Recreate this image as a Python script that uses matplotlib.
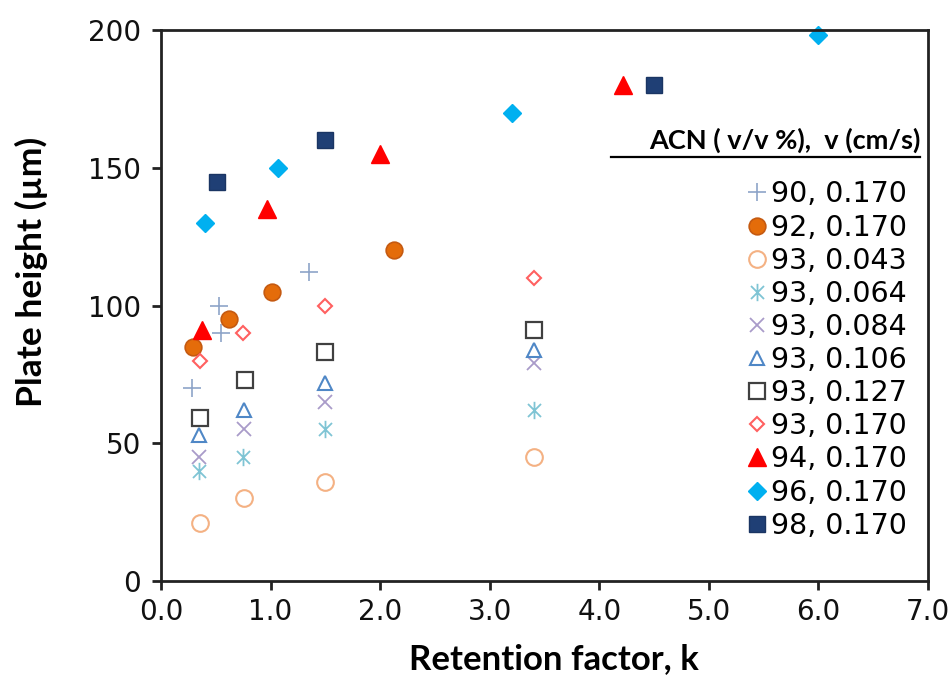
import matplotlib
matplotlib.use("Agg")
import matplotlib.pyplot as plt
from matplotlib.path import Path

# retention factor k / plate height (um)
k_90_170 = [0.28, 0.53, 0.55, 1.35]
h_90_170 = [70, 100, 90, 112]

k_92_170 = [0.29, 0.62, 1.01, 2.13]
h_92_170 = [85, 95, 105, 120]

k_93_043 = [0.36, 0.76, 1.50, 3.40]
h_93_043 = [21, 30, 36, 45]

k_93_064 = [0.35, 0.75, 1.50, 3.40]
h_93_064 = [40, 45, 55, 62]

k_93_084 = [0.35, 0.76, 1.50, 3.40]
h_93_084 = [45, 55, 65, 79]

k_93_106 = [0.35, 0.76, 1.50, 3.40]
h_93_106 = [53, 62, 72, 84]

k_93_127 = [0.36, 0.77, 1.50, 3.40]
h_93_127 = [59, 73, 83, 91]

k_93_170 = [0.36, 0.75, 1.50, 3.40]
h_93_170 = [80, 90, 100, 110]

k_94_170 = [0.37, 0.97, 2.00, 4.22]
h_94_170 = [91, 135, 155, 180]

k_96_170 = [0.40, 1.07, 3.20, 6.00]
h_96_170 = [130, 150, 170, 198]

k_98_170 = [0.51, 1.50, 4.50]
h_98_170 = [145, 160, 180]

labels = ["90, 0.170", "92, 0.170", "93, 0.043", "93, 0.064", "93, 0.084",
          "93, 0.106", "93, 0.127", "93, 0.170", "94, 0.170", "96, 0.170",
          "98, 0.170"]

# asterisk marker like Excel's (vertical bar + X)
asterisk = Path([(0, -1), (0, 1), (-0.75, -0.75), (0.75, 0.75), (-0.75, 0.75), (0.75, -0.75)],
                [Path.MOVETO, Path.LINETO] * 3)

series = [
    (k_90_170, h_90_170, dict(marker="+", color="#8EA4C8", ms=13, mew=1.2, ls="none")),
    (k_92_170, h_92_170, dict(marker="o", mfc="#E46C0A", mec="#C55A11", ms=12, mew=1.2, ls="none")),
    (k_93_043, h_93_043, dict(marker="o", mfc="none", mec="#F4B183", ms=12, mew=1.5, ls="none")),
    (k_93_064, h_93_064, dict(marker=asterisk, color="#7FC4D4", ms=12.5, mew=1.3, ls="none")),
    (k_93_084, h_93_084, dict(marker="x", color="#A99BC9", ms=10.5, mew=1.3, ls="none")),
    (k_93_106, h_93_106, dict(marker="^", mfc="none", mec="#4F87C6", ms=10, mew=1.5, ls="none")),
    (k_93_127, h_93_127, dict(marker="s", mfc="none", mec="#404040", ms=11, mew=1.6, ls="none")),
    (k_93_170, h_93_170, dict(marker="D", mfc="none", mec="#FF6060", ms=7.5, mew=1.5, ls="none")),
    (k_94_170, h_94_170, dict(marker="^", color="#FF0000", ms=13, ls="none")),
    (k_96_170, h_96_170, dict(marker="D", color="#00B0F0", ms=9.5, ls="none")),
    (k_98_170, h_98_170, dict(marker="s", mfc="#1F3F75", mec="#1A3563", ms=12, mew=1, ls="none")),
]

fig = plt.figure(figsize=(9.51, 6.89), dpi=100)
ax = fig.add_axes([0.1693, 0.1567, 0.8065, 0.7998])

handles = []
for (k, h, style), lab in zip(series, labels):
    line, = ax.plot(k, h, label=lab, clip_on=False, **style)
    handles.append(line)

ax.set_xlim(0, 7)
ax.set_ylim(0, 200)
ax.set_xticks([0, 1, 2, 3, 4, 5, 6, 7])
ax.set_xticklabels(["0.0", "1.0", "2.0", "3.0", "4.0", "5.0", "6.0", "7.0"])
ax.set_yticks([0, 50, 100, 150, 200])

for sp in ax.spines.values():
    sp.set_linewidth(2)
    sp.set_color("#222222")

ax.tick_params(axis="both", direction="out", length=6.5, width=2, color="#222222",
               labelsize=20, labelcolor="#111111")
ax.tick_params(axis="y", pad=8)
ax.tick_params(axis="x", pad=6)

ax.set_xlabel("Retention factor, k", fontsize=25, fontweight="bold",
              family=["Lato", "DejaVu Sans"])
ax.xaxis.set_label_coords(0.512, -0.112)
ax.set_ylabel("Plate height (µm)", fontsize=25.5, fontweight="bold",
              family=["Lato", "DejaVu Sans"])
ax.yaxis.set_label_coords(-0.147, 0.561)

leg = ax.legend(handles=handles, loc="upper left", bbox_to_anchor=(0.7635, 0.727),
                frameon=False, handlelength=0.75, handletextpad=0.12,
                labelspacing=0.18, borderpad=0, borderaxespad=0,
                prop={"family": "DejaVu Sans", "size": 20.5})

# legend heading, underlined
ax.text(0.99, 0.776, "ACN ( v/v %),  v (cm/s)", transform=ax.transAxes,
        ha="right", va="bottom", fontsize=19.5, fontweight="bold",
        family=["Lato", "DejaVu Sans"])
ax.plot([0.587, 0.99], [0.7695, 0.7695], transform=ax.transAxes, color="black",
        lw=1.6, clip_on=False)

fig.savefig("out.png", dpi=100)
